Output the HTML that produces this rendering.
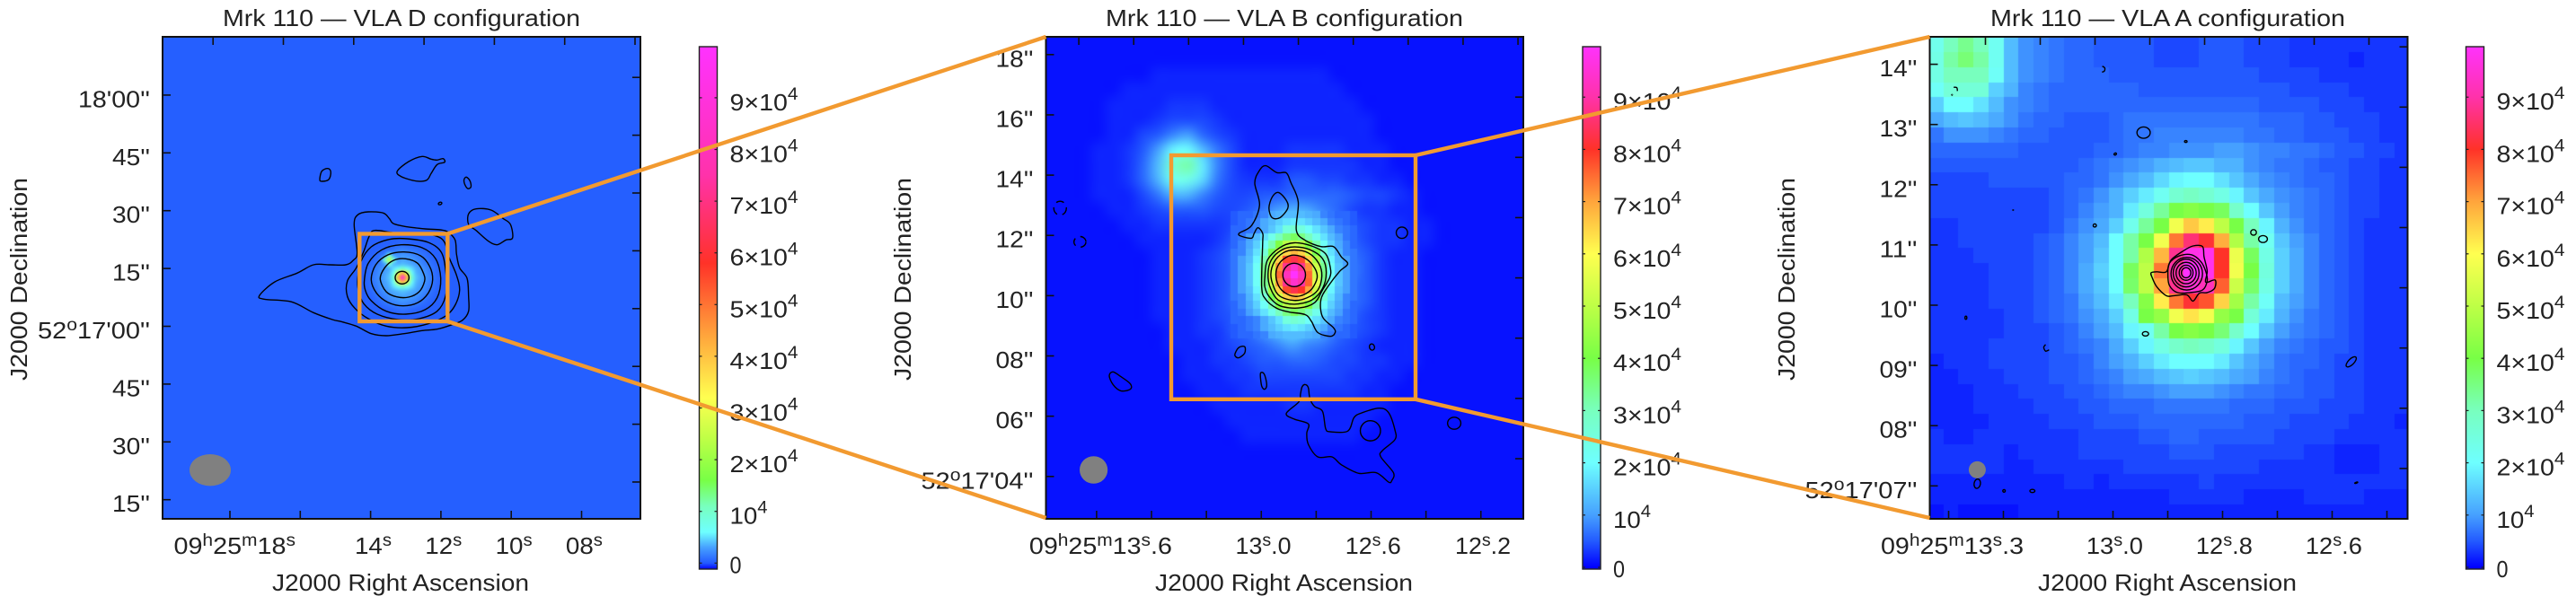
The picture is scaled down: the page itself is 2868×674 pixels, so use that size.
<!DOCTYPE html>
<html lang="en">
<head>
<meta charset="utf-8">
<title>Mrk 110 VLA configurations</title>
<style>
html,body{margin:0;padding:0;background:#fff;width:2868px;height:674px;overflow:hidden}
#stage{position:relative;width:2868px;height:674px}
canvas{position:absolute;display:block}
svg{position:absolute;left:0;top:0}
text{font-family:"Liberation Sans",sans-serif;font-size:26px;fill:#222}
</style>
</head>
<body>
<div id="stage">
<canvas id="cvD" style="left:181px;top:41px" width="532" height="537"></canvas>
<canvas id="cvB" style="left:1164px;top:41px" width="532" height="537"></canvas>
<canvas id="cvA" style="left:2149px;top:41px" width="531" height="537"></canvas>
<svg id="ov" width="2868" height="674" viewBox="0 0 2868 674" xmlns="http://www.w3.org/2000/svg">
  <g id="panelD">
    <text x="248" y="29" textLength="398" lengthAdjust="spacingAndGlyphs">Mrk 110 — VLA D configuration</text>
    <text x="303" y="658" textLength="286" lengthAdjust="spacingAndGlyphs">J2000 Right Ascension</text>
    <text transform="translate(30,424) rotate(-90)" textLength="226" lengthAdjust="spacingAndGlyphs">J2000 Declination</text>
  </g>
  <g id="panelB">
    <text x="1231" y="29" textLength="398" lengthAdjust="spacingAndGlyphs">Mrk 110 — VLA B configuration</text>
    <text x="1286" y="658" textLength="287" lengthAdjust="spacingAndGlyphs">J2000 Right Ascension</text>
    <text transform="translate(1014,424) rotate(-90)" textLength="226" lengthAdjust="spacingAndGlyphs">J2000 Declination</text>
  </g>
  <g id="panelA">
    <text x="2216" y="29" textLength="395" lengthAdjust="spacingAndGlyphs">Mrk 110 — VLA A configuration</text>
    <text x="2269" y="658" textLength="288" lengthAdjust="spacingAndGlyphs">J2000 Right Ascension</text>
    <text transform="translate(1998,424) rotate(-90)" textLength="226" lengthAdjust="spacingAndGlyphs">J2000 Declination</text>
  </g>
  <g fill="none" stroke="#f29a30" stroke-width="4.4">
    <rect x="400.3" y="260.5" width="98" height="97.5"/>
    <line x1="498.3" y1="260.5" x2="1164.5" y2="41"/>
    <line x1="498.3" y1="358" x2="1164.5" y2="577"/>
    <rect x="1304" y="173" width="272" height="271.8"/>
    <line x1="1576" y1="173" x2="2148.5" y2="41"/>
    <line x1="1576" y1="444.8" x2="2148.5" y2="577"/>
  </g>
</svg>
</div>
<script>
// ---------- colour scale (flux values in units of 10^3) ----------
const cmapColors = [[0,0,255],[35,90,255],[70,160,255],[110,255,255],[120,255,190],[120,255,70],[190,255,70],[255,255,80],[255,165,60],[255,50,40],[255,50,170],[255,50,255]];
const cmapValuesD = [-1.2,0,3,6,11,16,24,32,44,58,75,100];
const cmapValuesBA = [0,5,10,20,30,40,50,60,70,80,90,100];

// ---------- colourbar ticks ----------
const cbarTicks = [0,1,2,3,4,5,6,7,8,9];
const cbarLabels = ["0","10^4","2×10^4","3×10^4","4×10^4","5×10^4","6×10^4","7×10^4","8×10^4","9×10^4"];

// ---------- axis ticks and labels ----------
const raTicksD = [18,16,14,12,10,8];
const raTopTicksD = [18,16,14,12,10,8,6];
const raLabelsD = {18:"09^h^25^m^18^s",14:"14^s",12:"12^s",10:"10^s",8:"08^s"};
const decTicksD = [-45,-30,-15,0,15,30,45,60];
const decLabelsD = ["15''","30''","45''","52^o^17'00''","15''","30''","45''","18'00''"];

const raTicksB = [13.6,13.4,13.2,13.0,12.8,12.6,12.4,12.2];
const raTopTicksB = [13.6,13.4,13.2,13.0,12.8,12.6,12.4,12.2,12.0];
const raLabelsB = {13.6:"09^h^25^m^13^s^.6",13:"13^s^.0",12.6:"12^s^.6",12.2:"12^s^.2"};
const decTicksB = [4,6,8,10,12,14,16,18];
const decLabelsB = ["52^o^17'04''","06''","08''","10''","12''","14''","16''","18''"];

const raTicksA = [13.3,13.2,13.1,13.0,12.9,12.8,12.7,12.6,12.5];
const raTopTicksA = [13.2,13.1,13.0,12.9,12.8,12.7,12.6,12.5];
const raLabelsA = {13.3:"09^h^25^m^13^s^.3",13:"13^s^.0",12.8:"12^s^.8",12.6:"12^s^.6"};
const decTicksA = [7,8,9,10,11,12,13,14];
const decLabelsA = ["52^o^17'07''","08''","09''","10''","11''","12''","13''","14''"];

// ---------- image cell values (units of 10^3) ----------
const backgroundD = 0.2;
const coreD = [
[.3,.3,.3,.3,.3,.3,.3,.4,.5,.4,.3,.3,.3,.3,.3,.3,.3],
[.3,.3,.3,.3,.4,.5,.7,.9,1.1,.9,.7,.5,.4,.3,.3,.3,.3],
[.3,.3,.4,.6,.9,1.2,1.4,1.7,1.9,1.7,1.4,1.2,.9,.6,.4,.3,.3],
[.3,.4,.6,1,2,9,3,2.4,2.6,2.4,2.1,1.7,1.3,1,.6,.4,.3],
[.3,.5,.9,1.4,9,24,9,3,3.2,3,2.7,2.2,1.7,1.2,.9,.5,.3],
[.4,.7,1.2,1.8,3,9,4,3.6,4,3.6,3.2,2.7,2.1,1.5,1.2,.7,.4],
[.5,.9,1.4,2.1,2.8,3.4,5,7,10,7,5,3.4,2.8,2.1,1.4,.9,.5],
[.5,1,1.6,2.3,3,3.8,7,26,42,26,7,3.8,3,2.3,1.6,1,.5],
[.6,1.1,1.8,2.5,3.2,4.2,10,42,88,42,10,4.2,3.2,2.5,1.8,1.1,.6],
[.5,1,1.6,2.3,3,3.8,7,26,42,26,7,3.8,3,2.3,1.6,1,.5],
[.5,.9,1.4,2.1,2.8,3.4,5,7,10,7,5,3.4,2.8,2.1,1.4,.9,.5],
[.4,.7,1.2,1.8,2.4,3,3.4,3.8,4.1,3.8,3.4,3,2.4,1.8,1.2,.7,.4],
[.3,.5,.9,1.4,1.9,2.4,2.9,3.1,3.3,3.1,2.9,2.4,1.9,1.4,.9,.5,.3],
[.3,.4,.6,1,1.4,1.9,2.2,2.5,2.7,2.5,2.2,1.9,1.4,1,.6,.4,.3],
[.3,.3,.4,.6,.9,1.2,1.5,1.8,1.9,1.8,1.5,1.2,.9,.6,.4,.3,.3],
[.3,.3,.3,.3,.4,.5,.7,.9,1.1,.9,.7,.5,.4,.3,.3,.3,.3],
[.3,.3,.3,.3,.3,.3,.3,.4,.5,.4,.3,.3,.3,.3,.3,.3,.3]
];

const gridB = [
[1,1,1,1,1,1,1,1,1,1,1,1,1,1,1,1,1,1,1,1,1,1,1,1,1,1,1,1,1,1,1,1],
[1,1,1,1,1,1,1,1,1,1,1,1,1,1,1,1,1,1,1,1,1,1,1,1,1,1,1,1,1,1,1,1],
[1,1,1,1,1,1,1,2,2,2,2,2,2,2,2,2,2,2,2,1,1,1,1,1,1,1,1,1,1,1,1,1],
[1,1,1,1,1,2,2,2,2,2,2,2,2,2,2,2,2,2,2,2,1,1,1,1,1,1,1,1,1,1,1,1],
[1,1,1,1,2,2,2,2,3,3,3,2,2,2,2,2,2,2,2,2,2,1,1,1,1,1,1,1,1,1,1,1],
[1,1,1,1,2,2,2,3,4,4,4,3,2,2,2,2,2,2,2,2,2,2,1,1,1,1,1,1,1,1,1,1],
[1,1,1,1,2,2,4,5,8,10,6,4,3,2,2,2,2,2,2,2,2,2,1,1,1,1,1,1,1,1,1,1],
[1,1,1,2,2,3,5,10,19,20,13,7,4,2,2,2,3,3,3,3,2,2,2,1,1,1,1,1,1,1,1,1],
[1,1,1,2,2,3,6,13,27,32,18,8,4,2,2,2,3,3,3,3,3,2,2,1,1,1,1,1,1,1,1,1],
[1,1,1,2,2,3,6,12,22,23,16,7,4,3,3,3,5,5,4,4,3,3,2,2,1,1,1,1,1,1,1,1],
[1,1,1,2,2,2,4,7,12,12,8,5,4,4,5,5,6,6,6,6,5,4,4,3,2,1,1,1,1,1,1,1],
[1,1,1,1,2,2,3,4,5,5,5,4,4,5,7,10,12,11,8,6,4,3,3,2,2,1,1,1,1,1,1,1],
[1,1,1,1,1,2,2,3,3,3,3,3,4,7,12,17,19,18,13,8,5,4,3,3,2,2,1,1,1,1,1,1],
[1,1,1,1,1,1,2,2,2,2,2,3,5,10,17,30,40,33,19,11,6,4,3,3,2,2,1,1,1,1,1,1],
[1,1,1,1,1,1,1,2,2,2,3,4,6,12,24,53,72,60,30,14,7,5,3,2,2,1,1,1,1,1,1,1],
[1,1,1,1,1,1,1,2,2,2,3,4,6,13,30,68,95,77,38,16,8,5,3,2,2,1,1,1,1,1,1,1],
[1,1,1,1,1,1,1,2,2,2,3,4,6,14,29,65,90,74,37,16,7,5,3,2,2,1,1,1,1,1,1,1],
[1,1,1,1,1,1,1,2,2,2,3,4,6,11,21,45,63,52,26,13,7,5,3,2,2,1,1,1,1,1,1,1],
[1,1,1,1,1,1,1,2,2,2,3,4,5,8,15,25,33,28,17,11,6,4,3,2,2,1,1,1,1,1,1,1],
[1,1,1,1,1,1,1,1,2,2,3,3,5,6,10,14,17,15,12,7,5,4,3,2,2,1,1,1,1,1,1,1],
[1,1,1,1,1,1,1,1,2,2,2,3,4,5,6,8,10,8,7,5,4,3,2,2,2,1,1,1,1,1,1,1],
[1,1,1,1,1,1,1,1,1,2,2,3,3,4,5,5,6,6,5,4,4,3,3,2,2,1,1,1,1,1,1,1],
[1,1,1,1,1,1,1,1,1,2,2,2,3,3,4,4,4,4,4,4,3,3,2,2,1,1,1,1,1,1,1,1],
[1,1,1,1,1,1,1,1,1,1,2,2,2,3,3,3,3,3,3,3,3,2,2,1,1,1,1,1,1,1,1,1],
[1,1,1,1,1,1,1,1,1,1,1,2,2,2,2,2,3,3,2,2,2,2,2,1,1,1,1,1,1,1,1,1],
[1,1,1,1,1,1,1,1,1,1,1,1,2,2,2,2,2,2,2,2,2,2,1,1,1,1,1,1,1,1,1,1],
[1,1,1,1,1,1,1,1,1,1,1,1,1,2,2,2,2,2,2,2,2,1,1,1,1,1,1,1,1,1,1,1],
[1,1,1,1,1,1,1,1,1,1,1,1,1,1,1,1,1,1,1,1,1,1,1,1,1,1,1,1,1,1,1,1],
[1,1,1,1,1,1,1,1,1,1,1,1,1,1,1,1,1,1,1,1,1,1,1,1,1,1,1,1,1,1,1,1],
[1,1,1,1,1,1,1,1,1,1,1,1,1,1,1,1,1,1,1,1,1,1,1,1,1,1,1,1,1,1,1,1],
[1,1,1,1,1,1,1,1,1,1,1,1,1,1,1,1,1,1,1,1,1,1,1,1,1,1,1,1,1,1,1,1],
[1,1,1,1,1,1,1,1,1,1,1,1,1,1,1,1,1,1,1,1,1,1,1,1,1,1,1,1,1,1,1,1]
];
const coreB = [
[5,6,6,7,8,11,12,13,13,13,12,11,8,7,6,6,5],
[5,6,7,8,11,13,15,17,18,17,15,13,11,8,7,6,5],
[6,6,7,8,11,14,17,25,27,25,21,17,14,11,8,7,6],
[6,7,10,13,17,23,30,35,38,35,30,23,17,13,10,7,6],
[6,8,11,15,21,31,41,49,52,49,41,31,21,15,11,8,6],
[7,8,12,17,26,39,53,65,68,65,53,39,26,17,12,8,7],
[7,10,13,19,31,47,65,78,83,78,65,47,31,19,13,10,7],
[7,10,14,21,34,52,72,88,94,88,72,52,34,21,14,10,7],
[7,10,14,21,35,54,75,92,100,92,75,54,35,21,14,10,7],
[7,10,14,21,34,52,72,88,94,90,76,56,34,21,14,10,7],
[7,10,13,19,31,47,65,78,83,80,70,52,31,19,13,10,7],
[7,8,12,17,26,39,53,65,68,65,56,42,26,17,12,8,7],
[6,8,11,15,21,31,41,49,52,49,41,31,21,15,11,8,6],
[6,7,10,13,17,23,30,35,38,35,30,23,17,13,10,7,6],
[6,6,7,8,11,14,17,25,27,25,21,17,14,11,8,7,6],
[5,6,7,8,11,13,15,17,18,17,15,13,11,8,7,6,5],
[5,6,6,7,8,11,12,13,13,13,12,11,8,7,6,6,5]
];

const gridA = [
[23,30,34,30,22,13,9,8,7,6,6,5,5,5,5,4,4,4,5,5,5,4,4,4,3,3,3,3,3,3,3,3],
[24,32,36,32,22,13,9,8,7,6,6,5,5,5,5,4,4,4,5,5,5,4,4,4,3,3,3,3,2,3,3,3],
[24,30,30,30,21,13,9,8,7,6,6,6,5,5,5,5,5,5,5,5,5,5,4,4,4,4,3,3,3,3,3,3],
[21,26,26,26,15,12,8,7,6,6,6,6,6,6,5,5,5,5,5,5,5,5,5,5,4,4,4,4,3,3,3,3],
[15,20,20,17,13,9,8,7,6,6,6,6,6,6,6,6,6,6,6,6,6,6,5,5,5,5,4,4,4,3,3,3],
[11,13,14,13,11,9,7,6,6,5,5,5,6,7,7,7,7,7,7,7,7,7,6,6,6,5,5,4,4,4,3,3],
[7,9,9,9,8,7,6,6,5,5,5,5,6,7,7,8,8,8,8,8,8,7,7,6,6,5,5,5,4,4,3,3],
[6,6,6,6,6,6,5,5,5,5,5,6,6,7,8,8,9,9,9,10,10,9,8,8,7,7,6,5,5,4,4,3],
[5,5,5,5,5,5,5,5,5,5,6,7,8,9,10,12,13,14,14,12,12,9,8,7,7,6,5,5,4,4,3,3],
[4,4,4,4,5,5,5,5,5,6,6,7,9,11,13,16,19,20,20,17,14,11,9,8,7,6,6,5,4,4,3,3],
[4,4,4,4,4,4,4,4,5,6,7,9,12,15,18,22,27,29,27,24,19,14,11,9,8,7,6,5,4,4,3,3],
[4,4,4,4,4,4,4,4,5,6,8,10,12,18,25,33,40,42,40,38,28,20,14,10,8,7,6,5,4,4,3,3],
[3,3,4,4,4,4,4,4,5,7,9,11,15,23,33,40,58,66,62,50,40,30,19,12,9,7,6,5,4,3,3,3],
[3,3,4,4,4,4,4,5,6,8,10,13,20,32,40,58,74,86,81,69,48,32,22,14,10,8,6,5,4,3,3,3],
[3,3,3,4,4,4,4,5,6,8,10,14,20,32,48,68,88,97,98,80,57,38,24,15,11,8,6,5,4,3,3,3],
[3,3,3,3,4,4,4,5,6,8,11,15,20,38,50,74,90,100,98,80,58,40,25,15,11,8,6,5,4,3,3,3],
[3,3,3,3,4,4,4,5,6,8,11,14,20,37,50,70,88,95,92,76,52,37,24,15,11,8,6,5,4,3,3,3],
[3,3,3,3,4,4,4,5,6,7,10,13,18,30,42,62,74,81,77,65,46,32,21,13,10,8,6,5,4,3,3,3],
[3,3,3,3,3,4,4,5,6,7,9,11,15,24,40,44,58,63,58,44,40,26,18,12,9,7,6,5,4,3,3,3],
[3,3,3,3,3,4,4,4,5,6,8,10,13,19,22,32,40,42,40,36,28,20,14,10,8,7,6,5,4,3,3,3],
[3,3,3,3,4,4,4,4,5,6,7,8,11,15,19,24,28,30,28,25,19,14,10,8,7,6,5,5,4,3,3,3],
[2,3,3,3,4,4,4,4,5,5,6,8,10,12,15,18,20,20,20,18,14,11,9,7,6,6,5,4,4,3,3,3],
[2,2,3,3,3,4,4,4,5,5,6,7,8,10,11,13,14,15,14,13,11,10,8,7,6,5,5,4,4,3,3,3],
[2,2,2,3,3,3,4,4,4,5,5,6,7,8,8,9,10,10,10,9,8,7,7,6,6,5,5,4,4,3,3,3],
[2,2,2,3,3,3,3,4,4,4,5,5,6,6,6,7,7,7,7,7,6,6,6,5,5,5,4,4,4,3,3,3],
[2,2,2,2,3,3,3,3,4,4,4,5,5,5,6,6,6,6,6,6,6,5,5,5,4,4,4,4,3,3,3,2],
[3,2,2,3,3,3,3,3,3,3,4,4,4,4,5,5,6,6,5,5,5,5,5,4,4,4,4,3,3,3,3,3],
[3,3,3,3,3,2,3,3,3,3,4,4,4,4,4,4,5,5,5,4,4,4,4,4,4,3,3,2,2,2,3,3],
[3,3,3,3,3,2,2,3,3,3,3,3,3,4,4,4,4,4,4,4,4,4,3,3,3,3,3,2,2,2,3,3],
[2,2,2,2,2,2,2,2,2,3,3,2,3,3,3,3,3,3,4,3,3,3,3,3,3,3,3,3,3,3,3,3],
[2,2,2,2,2,2,2,2,2,2,2,2,2,2,2,2,3,3,3,3,3,2,2,2,2,3,3,3,3,2,2,2],
[1,2,1,1,1,1,2,2,2,2,2,2,2,2,2,2,2,2,2,2,2,2,2,2,2,2,2,2,2,2,2,2]
];

// ---------- contours (image-frame coordinates) ----------
const contoursD = [
[[165,435],[190,420],[203,395],[193,300],[205,268],[240,258],[290,262],[310,280],[325,298],[370,308],[430,315],[480,318],[505,325],[530,352],[535,400],[545,445],[570,480],[575,540],[575,590],[555,620],[520,635],[470,650],[420,655],[360,665],[300,672],[250,665],[200,640],[150,625],[120,618],[57,595],[-16,559],[-108,550],[-123,537],[-72,492],[2,463],[57,435],[112,435]],
[[262,320],[330,328],[420,330],[470,340],[495,360],[510,410],[535,470],[545,520],[530,570],[500,605],[440,632],[370,645],[300,640],[240,615],[195,580],[170,540],[170,490],[200,445],[225,390],[243,340]],
[[205,480],[215,425],[250,375],[310,350],[370,348],[440,360],[485,395],[500,470],[498,540],[470,590],[410,615],[340,618],[270,600],[225,565],[207,520]],
[[227,485],[240,430],[285,385],[350,368],[420,378],[465,415],[482,480],[470,545],[430,585],[365,600],[300,590],[250,555],[230,520]],
[[250,485],[265,435],[305,402],[360,392],[415,405],[445,440],[455,485],[440,530],[405,562],[355,572],[305,560],[268,530]],
[[280,482],[295,445],[325,420],[365,415],[405,430],[425,465],[428,490],[410,525],[375,543],[335,542],[300,525]],
[[337,122],[375,90],[420,73],[450,82],[470,85],[490,80],[495,92],[470,100],[450,130],[435,152],[400,155],[350,140]],
[[78,150],[85,122],[105,113],[115,125],[108,150],[85,156]],
[[560,150],[568,142],[580,155],[583,175],[572,180],[562,165]],
[[575,265],[600,248],[650,252],[690,280],[715,300],[722,345],[700,352],[670,368],[640,355],[600,320],[575,300]]
];
const ringsD = [[353,478,23,21,0],[480,230,6,4,-20]];

const contoursB = [
[[640,650],[680,625],[705,560],[690,490],[705,450],[725,435],[760,457],[790,458],[805,490],[828,550],[822,640],[850,672],[900,692],[940,692],[965,725],[985,747],[960,770],[925,815],[900,860],[905,915],[940,950],[945,965],[930,977],[890,965],[870,930],[850,908],[800,900],[760,888],[725,860],[712,820],[715,680],[715,650],[700,632],[688,650],[680,665],[650,660]],
[[722,790],[730,735],[770,695],[815,680],[870,690],[915,715],[930,760],[928,790],[905,830],[880,870],[830,887],[770,880],[735,850],[722,820]],
[[732,780],[742,735],[775,703],[815,693],[865,702],[905,730],[917,775],[905,825],[870,862],[815,875],[765,862],[740,825]],
[[741,780],[752,740],[780,712],[815,703],[860,712],[893,745],[903,785],[890,830],[855,855],[815,863],[770,850],[750,820]],
[[757,780],[766,748],[790,726],[815,719],[852,730],[880,760],[888,790],[872,825],[845,845],[815,850],[785,838],[765,815]],
[[735,570],[745,535],[765,520],[790,545],[795,570],[770,600],[745,600]],
[[628,1030],[640,1012],[658,1010],[658,1030],[640,1045],[628,1040]],
[[708,1095],[720,1097],[728,1130],[722,1145],[712,1135]],
[[228,1102],[240,1090],[265,1105],[295,1128],[295,1145],[265,1150],[240,1130]],
[[835,1160],[840,1138],[850,1130],[860,1140],[865,1175],[880,1200],[905,1215],[915,1270],[930,1280],[985,1278],[1005,1235],[1030,1220],[1085,1205],[1115,1220],[1135,1275],[1135,1305],[1095,1340],[1090,1360],[1130,1410],[1125,1435],[1115,1440],[1075,1410],[1020,1412],[965,1385],[935,1360],[890,1360],[860,1320],[855,1285],[860,1255],[815,1240],[790,1222],[830,1185]]
];
const ringsB = [[815,782,36,37,0],[1157,648,18,18,0],[1062,1011,8,10,-15],[1057,1277,32,32,0],[1323,1253,21,19,0]];
const dashedRingsB = [[72,570,20,22,0],[135,677,19,17,0]];

const contoursA = [
[[727,775],[745,772],[775,772],[790,735],[830,705],[860,690],[890,692],[895,725],[905,770],[900,805],[930,798],[928,825],[905,838],[880,840],[860,865],[840,845],[800,848],[775,848],[745,820],[730,790]],
[[780,780],[785,745],[815,722],[855,718],[885,740],[900,770],[905,800],[890,830],[850,838],[810,838],[785,815]]
];
const ringsA = [[840,778,50,52,0],[838,776,41,44,0],[838,776,32,34,0],[838,775,22,24,0],[838,775,15,16,0],[703,330,21,18,0],[837,358,4,3,0],[613,398,4,3,-30],[548,625,5,5,0],[1052,647,9,9,0],[1082,668,14,11,0],[709,969,10,7,0],[139,918,3,5,0],[289,576,1,1,0],[1362,1058,21,9,-45],[175,1445,10,15,10],[260,1468,4,4,0],[350,1468,8,5,0],[1378,1442,5,1.5,-20],[95,210,1,1,0]];
const openContoursA = [
[[392,1003],[386,1012],[392,1024],[403,1020]],
[[572,119],[580,125],[578,135],[571,138]],
[[100,186],[110,187],[112,198]]
];

// ---------- helpers ----------
const SVGNS = 'http://www.w3.org/2000/svg';
function mk(parent, tag, attrs){
  const el = document.createElementNS(SVGNS, tag);
  for (const k in attrs) el.setAttribute(k, attrs[k]);
  parent.appendChild(el);
  return el;
}
function colorOf(v, values){
  let i = 0;
  if (v <= values[0]) return cmapColors[0];
  while (i < values.length - 2 && v > values[i + 1]) i++;
  const t = Math.min(1, (v - values[i]) / (values[i + 1] - values[i]));
  const a = cmapColors[i], b = cmapColors[i + 1];
  return [a[0] + (b[0] - a[0]) * t, a[1] + (b[1] - a[1]) * t, a[2] + (b[2] - a[2]) * t];
}
function drawGrid(ctx, grid, values, x, y, cw, ch, smooth){
  const rows = grid.length, cols = grid[0].length;
  const off = document.createElement('canvas');
  off.width = cols; off.height = rows;
  const oc = off.getContext('2d');
  const im = oc.createImageData(cols, rows);
  for (let j = 0; j < rows; j++) for (let i = 0; i < cols; i++){
    const c = colorOf(grid[j][i], values), p = (j * cols + i) * 4;
    im.data[p] = c[0]; im.data[p + 1] = c[1]; im.data[p + 2] = c[2]; im.data[p + 3] = 255;
  }
  oc.putImageData(im, 0, 0);
  ctx.imageSmoothingEnabled = smooth;
  ctx.imageSmoothingQuality = 'high';
  ctx.drawImage(off, x, y, cols * cw, rows * ch);
}
function smoothPath(pts, closed){
  const n = pts.length;
  const at = i => closed ? pts[(i + n) % n] : pts[Math.max(0, Math.min(n - 1, i))];
  let d = 'M' + pts[0][0].toFixed(1) + ' ' + pts[0][1].toFixed(1);
  const segs = closed ? n : n - 1;
  for (let i = 0; i < segs; i++){
    const p0 = at(i - 1), p1 = at(i), p2 = at(i + 1), p3 = at(i + 2);
    const c1x = p1[0] + (p2[0] - p0[0]) / 6, c1y = p1[1] + (p2[1] - p0[1]) / 6;
    const c2x = p2[0] - (p3[0] - p1[0]) / 6, c2y = p2[1] - (p3[1] - p1[1]) / 6;
    d += 'C' + c1x.toFixed(1) + ' ' + c1y.toFixed(1) + ' ' + c2x.toFixed(1) + ' ' + c2y.toFixed(1) + ' ' + p2[0].toFixed(1) + ' ' + p2[1].toFixed(1);
  }
  return d + (closed ? 'Z' : '');
}
function richText(parent, label, x, baseline, width, supSize, lift){
  const t = mk(parent, 'text', {x: x, y: baseline, textLength: width, lengthAdjust: 'spacingAndGlyphs'});
  const parts = label.split('^');
  let wasSup = false;
  parts.forEach((part, i) => {
    if (!part) return;
    const sup = i % 2 === 1;
    const a = {};
    if (sup) { a['font-size'] = supSize; a.dy = -lift; }
    else if (wasSup) { a.dy = lift; }
    const s = mk(t, 'tspan', a);
    s.textContent = part;
    wasSup = sup;
  });
  return t;
}
function addContours(g, list, rings, open, dashed, sx, sy, k){
  list.forEach(pts => {
    const p = mk(g, 'path', {d: smoothPath(pts.map(q => [sx(q[0]), sy(q[1])]), true), fill: 'none', stroke: '#000', 'stroke-width': 1.4});
    
    
  });
  rings.forEach(r => {
    const e = mk(g, 'ellipse', {cx: sx(r[0]), cy: sy(r[1]), rx: r[2] / k, ry: r[3] / k, fill: 'none', stroke: '#000', 'stroke-width': 1.4, transform: 'rotate(' + r[4] + ' ' + sx(r[0]) + ' ' + sy(r[1]) + ')'});
    
    
  });
  open.forEach(pts => {
    const p = mk(g, 'path', {d: smoothPath(pts.map(q => [sx(q[0]), sy(q[1])]), false), fill: 'none', stroke: '#000', 'stroke-width': 1.4});
    
    
  });
  dashed.forEach(r => {
    const e = mk(g, 'ellipse', {cx: sx(r[0]), cy: sy(r[1]), rx: r[2] / k, ry: r[3] / k, fill: 'none', stroke: '#000', 'stroke-width': 1.4, 'stroke-dasharray': '9 6'});
    
    
  });
}
function drawAxes(g, c){
  const L = c.L, R = c.R, T = c.T, B = c.B;
  const frame = mk(g, 'rect', {x: L, y: T, width: R - L, height: B - T, fill: 'none', stroke: '#111', 'stroke-width': 2});
  
  
  c.raTicks.forEach(s => {
    const x = c.xScale(s);
    const t = mk(g, 'line', {x1: x, y1: B, x2: x, y2: B - 9, stroke: '#111', 'stroke-width': 1.6});
    
    
    const lab = c.raLabels[s];
    if (lab){
      const long = lab.indexOf('h') >= 0;
      const el = richText(g, lab, x - (long ? c.xLongOff : c.xShortOff), 617, long ? c.xLongW : c.xShortW, 19, 9);
      
      
    }
  });
  c.raTopTicks.forEach(s => {
    const x = c.xScale(s) + c.skewX;
    const t = mk(g, 'line', {x1: x, y1: T, x2: x, y2: T + 9, stroke: '#111', 'stroke-width': 1.6});
    
    
  });
  c.decTicks.forEach((d, i) => {
    const y = c.yScale(d);
    const t = mk(g, 'line', {x1: L, y1: y, x2: L + 9, y2: y, stroke: '#111', 'stroke-width': 1.6});
    
    
    const r = mk(g, 'line', {x1: R, y1: y + c.skewY, x2: R - 9, y2: y + c.skewY, stroke: '#111', 'stroke-width': 1.6});
    
    
    const lab = c.decLabels[i];
    const len = lab.replace(/\^/g, '').length;
    const w = len <= 4 ? 42 : (len <= 7 ? 80 : 125);
    const el = richText(g, lab, L - 14 - w, y + 13.5, w, 19, 9);
    
    
  });
  const beam = mk(g, 'ellipse', {cx: c.beam[0], cy: c.beam[1], rx: c.beam[2], ry: c.beam[3], fill: '#808080'});
  
  
}
function drawColorbar(g, c, id){
  const defs = mk(g, 'defs', {});
  const grad = mk(defs, 'linearGradient', {id: id, x1: 0, y1: 1, x2: 0, y2: 0});
  const y = v => c.cb0 - v * c.cbStep;
  const vmin = (c.cb0 - 634) / c.cbStep * 10, vmax = (c.cb0 - 52) / c.cbStep * 10;
  const vals = c.cmapValues.slice();
  [vmin].concat(vals.filter(v => v > vmin && v < vmax)).concat([vmax]).forEach(v => {
    const q = colorOf(v, c.cmapValues);
    mk(grad, 'stop', {offset: (v - vmin) / (vmax - vmin), 'stop-color': 'rgb(' + Math.round(q[0]) + ',' + Math.round(q[1]) + ',' + Math.round(q[2]) + ')'});
  });
  const r = mk(g, 'rect', {x: c.cbL, y: 52, width: 20, height: 582, fill: 'url(#' + id + ')', stroke: '#222', 'stroke-width': 1.4});
  
  
  cbarTicks.forEach((v, i) => {
    const ty = y(v);
    const a = mk(g, 'line', {x1: c.cbL, y1: ty, x2: c.cbL + 3, y2: ty, stroke: '#222', 'stroke-width': 1.2});
    
    
    const b = mk(g, 'line', {x1: c.cbL + 20, y1: ty, x2: c.cbL + 17, y2: ty, stroke: '#222', 'stroke-width': 1.2});
    
    
    const lab = cbarLabels[i];
    const w = lab === '0' ? 13 : (lab === '10^4' ? 42 : 76);
    const el = richText(g, lab, c.cbL + 34, ty + (lab === '0' ? 11 : 14), w, 19, 12);
    
    
  });
}

// ---------- panel axis functions ----------
const panelD = {L: 181, R: 713, T: 41, B: 578, skewX: -18.8, skewY: -19.7,
  xScale: s => 256 + (18 - s) * 39.15, yScale: d => 363.5 - d * 4.293,
  raTicks: raTicksD, raTopTicks: raTopTicksD, raLabels: raLabelsD, decTicks: decTicksD, decLabels: decLabelsD,
  xLongOff: 62.5, xLongW: 135.5, xShortOff: 17.6, xShortW: 41,
  beam: [234, 523.7, 23, 17.7], cbL: 778.5, cb0: 627.3, cbStep: 57.6, cmapValues: cmapValuesD};
const panelB = {L: 1164.5, R: 1696, T: 41, B: 578, skewX: -19.8, skewY: -19.8,
  xScale: s => 1220.9 + (13.6 - s) * 305.6, yScale: d => 530.8 - (d - 4) * 33.57,
  raTicks: raTicksB, raTopTicks: raTopTicksB, raLabels: raLabelsB, decTicks: decTicksB, decLabels: decLabelsB,
  xLongOff: 75, xLongW: 159, xShortOff: 28.7, xShortW: 62,
  beam: [1217.6, 523.5, 15.6, 15.3], cbL: 1762, cb0: 632, cbStep: 58.2, cmapValues: cmapValuesBA};
const panelA = {L: 2148.5, R: 2680.5, T: 41, B: 578, skewX: -20, skewY: -19.4,
  xScale: s => 2169.5 + (13.3 - s) * 610, yScale: d => 541.3 - (d - 7) * 67.1,
  raTicks: raTicksA, raTopTicks: raTopTicksA, raLabels: raLabelsA, decTicks: decTicksA, decLabels: decLabelsA,
  xLongOff: 75.5, xLongW: 159, xShortOff: 29.6, xShortW: 63,
  beam: [2201.4, 523.4, 9.5, 9.5], cbL: 2745.5, cb0: 632, cbStep: 58.2, cmapValues: cmapValuesBA};

// ---------- heatmaps ----------
(function(){
  const d = document.getElementById('cvD').getContext('2d');
  d.translate(-181, -41);
  drawGrid(d, [[backgroundD]], cmapValuesD, 181, 41, 532, 537, false);
  drawGrid(d, coreD, cmapValuesD, 448.3 - 8.5 * 5, 309.3 - 8.5 * 5, 5, 5, true);

  const b = document.getElementById('cvB').getContext('2d');
  b.translate(-1164, -41);
  drawGrid(b, gridB, cmapValuesBA, 1164.5, 41, 16.62, 16.78, true);
  drawGrid(b, coreB, cmapValuesBA, 1440.7 - 8.5 * 8.31, 306 - 8.5 * 8.39, 8.31, 8.39, false);

  const a = document.getElementById('cvA').getContext('2d');
  a.translate(-2149, -41);
  drawGrid(a, gridA, cmapValuesBA, 2147, 41.1, 16.73, 16.8, false);
})();

// ---------- overlay ----------
const gD = document.getElementById('panelD'), gB = document.getElementById('panelB'), gA = document.getElementById('panelA');
const imgXD = u => 330 + u / 3, imgYD = v => 150 + v / 3;
const imgXB = u => 1155 + u / 2.851, imgYB = v => 32 + v / 2.851;
const imgXA = u => 2140 + u / 2.851, imgYA = v => 32 + v / 2.851;
addContours(gD, contoursD, ringsD, [], [], imgXD, imgYD, 3);
addContours(gB, contoursB, ringsB, [], dashedRingsB, imgXB, imgYB, 2.851);
addContours(gA, contoursA, ringsA, openContoursA, [], imgXA, imgYA, 2.851);
drawAxes(gD, panelD);
drawAxes(gB, panelB);
drawAxes(gA, panelA);
drawColorbar(gD, panelD, 'cbD');
drawColorbar(gB, panelB, 'cbB');
drawColorbar(gA, panelA, 'cbA');
</script>
</body>
</html>
